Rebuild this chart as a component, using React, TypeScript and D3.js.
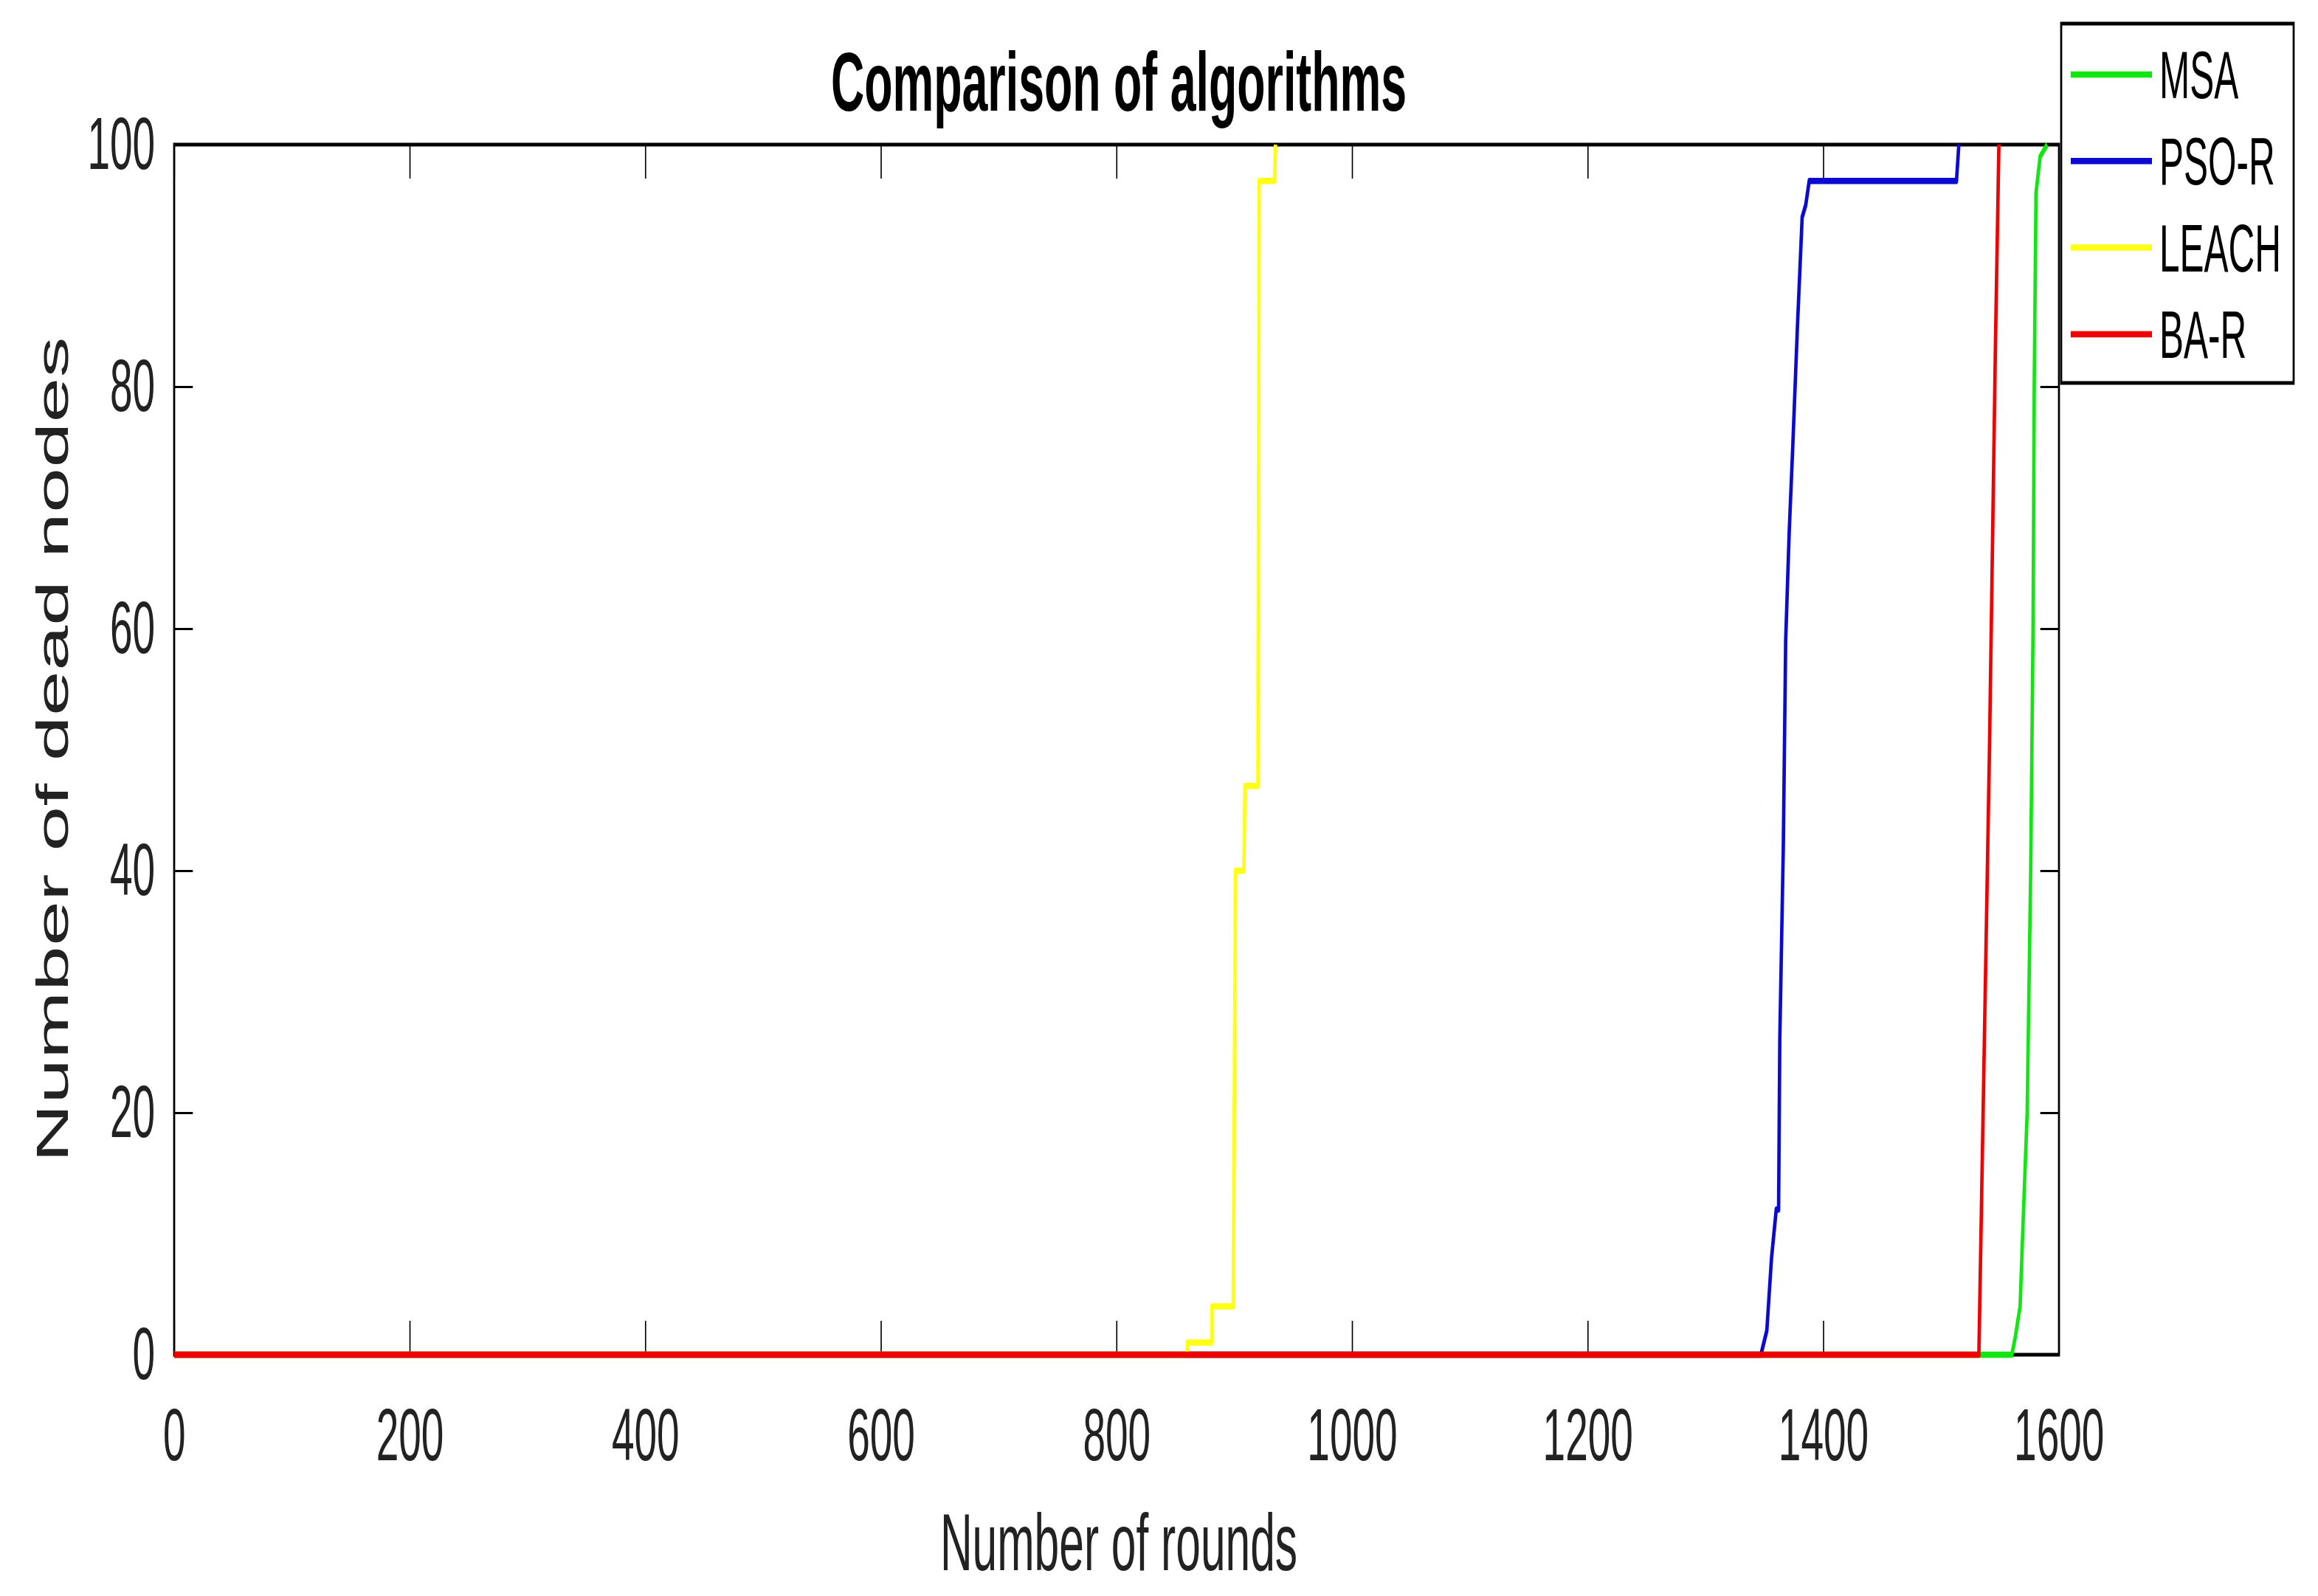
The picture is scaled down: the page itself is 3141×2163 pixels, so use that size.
import * as d3 from 'd3'
import { useEffect, useRef } from 'react'

// picture is squashed sideways, so draw in a wider box and let the viewBox squeeze it
const W = 3141
const H = 2163
const sx = 0.55
const IW = W / sx
const X = (px: number) => px / sx

const seriesNames = ['MSA', 'PSO-R', 'LEACH', 'BA-R']
const seriesColors = ['#12e612', '#0a0ad2', '#ffff14', '#f00000']

const xTicks = [0, 200, 400, 600, 800, 1000, 1200, 1400, 1600]
const yTicks = [0, 20, 40, 60, 80, 100]

// [round, dead nodes]
const msa: [number, number][] = [
  [0, 0], [1560, 0], [1563, 1.5], [1567, 4], [1569, 9.5], [1573, 20], [1576, 40],
  [1578, 60], [1579, 80], [1580.5, 96], [1584, 99], [1590, 100],
]
const psoR: [number, number][] = [
  [0, 0], [1347, 0], [1352, 2], [1356, 8], [1360, 12], [1362, 12], [1363, 26],
  [1366, 42], [1368, 59], [1371, 68], [1374, 75], [1378, 85], [1382, 94],
  [1385, 95], [1388, 97], [1513, 97], [1515, 100],
]
const leach: [number, number][] = [
  [0, 0], [860, 0], [860, 1], [881, 1], [881, 4], [899, 4], [901, 40], [908, 40],
  [909, 47], [920, 47], [921, 97], [934, 97], [935, 100],
]
const baR: [number, number][] = [
  [0, 0], [1532, 0], [1541, 50], [1546, 83], [1549, 100],
]

const seriesData = [msa, psoR, leach, baR]

const font = '"Liberation Sans", Arial, sans-serif'

export default function App() {
  const svgRef = useRef<SVGSVGElement | null>(null)

  useEffect(() => {
    if (!svgRef.current) return
    const svg = d3.select(svgRef.current)
    svg.selectAll('*').remove()

    const x = d3.scaleLinear().domain([0, 1600]).range([X(236), X(2790)])
    const y = d3.scaleLinear().domain([0, 100]).range([1836, 196])
    const tick = -46
    const fmt = d3.format('d')

    const g = svg.append('g')

    g.append('rect')
      .attr('x', x(0))
      .attr('y', y(100))
      .attr('width', x(1600) - x(0))
      .attr('height', y(0) - y(100))
      .attr('fill', 'none')
      .attr('stroke', '#000')
      .attr('stroke-width', 5)

    const styleAxis = (a: d3.Selection<SVGGElement, unknown, null, undefined>) => {
      a.select('.domain').remove()
      a.attr('font-size', 100).attr('font-family', font)
      a.selectAll('.tick line').attr('stroke', '#000').attr('stroke-width', 3)
      a.selectAll('.tick text').attr('fill', '#222')
    }

    g.append('g')
      .attr('transform', `translate(0,${y(0)})`)
      .call(d3.axisBottom(x).tickValues(xTicks).tickFormat(fmt).tickSize(tick).tickSizeOuter(0).tickPadding(72))
      .call(styleAxis)

    g.append('g')
      .attr('transform', `translate(0,${y(100)})`)
      .call(d3.axisTop(x).tickValues(xTicks).tickSize(tick).tickSizeOuter(0).tickFormat(() => ''))
      .call(styleAxis)

    g.append('g')
      .attr('transform', `translate(${x(0)},0)`)
      .call(d3.axisLeft(y).tickValues(yTicks).tickFormat(fmt).tickSize(tick).tickSizeOuter(0).tickPadding(47))
      .call(styleAxis)

    g.append('g')
      .attr('transform', `translate(${x(1600)},0)`)
      .call(d3.axisRight(y).tickValues(yTicks).tickSize(tick).tickSizeOuter(0).tickFormat(() => ''))
      .call(styleAxis)

    const line = d3
      .line<[number, number]>()
      .x((d) => x(d[0]))
      .y((d) => y(d[1]))

    seriesData.forEach((data, i) => {
      g.append('path')
        .datum(data)
        .attr('d', line)
        .attr('fill', 'none')
        .attr('stroke', seriesColors[i])
        .attr('stroke-width', 8.5)
        .attr('stroke-linejoin', 'round')
    })

    // title and axis labels
    svg.append('text')
      .attr('x', X(1516))
      .attr('y', 150)
      .attr('text-anchor', 'middle')
      .attr('font-family', font)
      .attr('font-weight', 'bold')
      .attr('font-size', 114)
      .attr('fill', '#000')
      .text('Comparison of algorithms')

    svg.append('text')
      .attr('x', X(1516))
      .attr('y', 2128)
      .attr('text-anchor', 'middle')
      .attr('font-family', font)
      .attr('font-size', 110)
      .attr('fill', '#222')
      .text('Number of rounds')

    svg.append('text')
      .attr('transform', `translate(${X(92)},1016) rotate(-90)`)
      .attr('text-anchor', 'middle')
      .attr('font-family', font)
      .attr('font-size', 110)
      .attr('fill', '#222')
      .text('Number of dead nodes')

    // legend
    const lg = svg.append('g')
    lg.append('rect')
      .attr('x', X(2793))
      .attr('y', 32)
      .attr('width', X(3108) - X(2793))
      .attr('height', 487)
      .attr('fill', '#fff')
      .attr('stroke', '#000')
      .attr('stroke-width', 5)

    seriesNames.forEach((name, i) => {
      const cy = 101 + i * 117.3
      lg.append('line')
        .attr('x1', X(2806))
        .attr('x2', X(2916))
        .attr('y1', cy)
        .attr('y2', cy)
        .attr('stroke', seriesColors[i])
        .attr('stroke-width', 8.5)
      lg.append('text')
        .attr('x', X(2926))
        .attr('y', cy + 32)
        .attr('font-family', font)
        .attr('font-size', 90)
        .attr('fill', '#000')
        .text(name)
    })
  }, [])

  return (
    <svg
      ref={svgRef}
      width={W}
      height={H}
      viewBox={`0 0 ${IW} ${H}`}
      preserveAspectRatio="none"
      style={{ position: 'absolute', left: 0, top: 0, background: '#fff', display: 'block' }}
    />
  )
}
